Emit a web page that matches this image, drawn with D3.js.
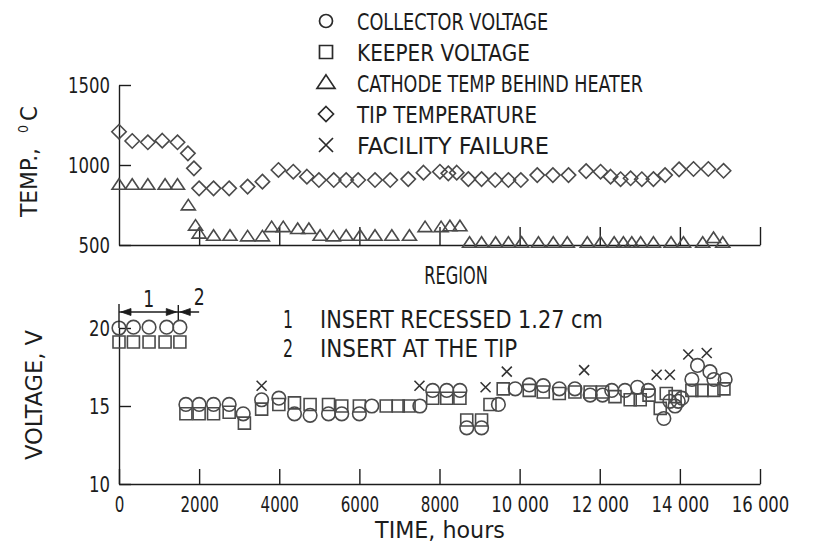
<!DOCTYPE html>
<html>
<head>
<meta charset="utf-8">
<script src="https://cdn.jsdelivr.net/npm/d3@7"></script>
<style>
  html, body { margin: 0; padding: 0; background: #fff; }
  svg { display: block; }
  text { font-family: "DejaVu Sans Condensed", "Liberation Sans Narrow", "DejaVu Sans", sans-serif; fill: #1c1c1c; }
</style>
</head>
<body>
<svg id="chart" width="814" height="551"></svg>
<script>
// ---- Data: endurance test, temperatures and voltages vs. time (hours) ----
const tipTime  = [0, 330, 720, 1080, 1460, 1720, 1870, 2000, 2360, 2750, 3210, 3580, 3980, 4350, 4690, 4990, 5360, 5670, 5970, 6390, 6770, 7220, 7600, 8010, 8220, 8430, 8720, 9050, 9390, 9720, 10030, 10440, 10830, 11220, 11660, 12020, 12270, 12520, 12770, 13050, 13340, 13630, 13980, 14340, 14710, 15090];
const tipTemp  = [1208, 1150, 1142, 1152, 1142, 1073, 979, 854, 854, 854, 865, 896, 969, 958, 927, 906, 906, 906, 906, 906, 906, 912, 952, 958, 948, 952, 912, 912, 906, 906, 906, 937, 937, 937, 962, 958, 927, 911, 917, 911, 912, 937, 973, 975, 975, 964];

const cathodeTime = [0, 330, 720, 1150, 1460, 1730, 1910, 2000, 2360, 2770, 3210, 3580, 3810, 4100, 4460, 4740, 5020, 5350, 5670, 6020, 6390, 6810, 7250, 7640, 8040, 8260, 8510, 8750, 9050, 9400, 9720, 10050, 10470, 10840, 11190, 11690, 12020, 12360, 12590, 12800, 13020, 13340, 13780, 14090, 14570, 14840, 15070];
const cathodeTemp = [875, 875, 875, 875, 875, 746, 619, 569, 556, 556, 552, 552, 610, 610, 598, 598, 556, 552, 556, 556, 556, 556, 556, 610, 610, 615, 615, 512, 512, 512, 512, 512, 512, 512, 512, 512, 512, 512, 512, 512, 512, 512, 512, 512, 512, 542, 512];

const collectorTime = [0, 360, 750, 1190, 1520, 1670, 2000, 2360, 2750, 3100, 3560, 3990, 4380, 4770, 5230, 5560, 6000, 6310, 7510, 7830, 8180, 8510, 8680, 9050, 9470, 9890, 10240, 10590, 10990, 11380, 11760, 12070, 12300, 12630, 12940, 13210, 13600, 13750, 13880, 13960, 14050, 14300, 14440, 14750, 14850, 15130];
const collectorVolt = [20.0, 20.05, 20.05, 20.05, 20.05, 15.1, 15.1, 15.1, 15.1, 14.5, 15.4, 15.5, 14.5, 14.4, 14.5, 14.5, 14.5, 15.0, 15.0, 16.0, 16.0, 16.0, 13.6, 13.6, 15.1, 16.1, 16.35, 16.3, 16.1, 16.1, 15.7, 15.7, 16.0, 16.0, 16.2, 16.0, 14.2, 15.3, 15.0, 15.3, 15.5, 16.7, 17.6, 17.2, 16.7, 16.7];

const keeperTime = [0, 360, 750, 1150, 1520, 1670, 2000, 2360, 2750, 3130, 3560, 3990, 4380, 4770, 5230, 5560, 6000, 6670, 6970, 7240, 7830, 8180, 8510, 8680, 9050, 9260, 9590, 10240, 10590, 10990, 11380, 11760, 12070, 12380, 12760, 13010, 13230, 13510, 13660, 13880, 14300, 14550, 14850, 15100];
const keeperVolt = [19.1, 19.1, 19.1, 19.1, 19.1, 14.5, 14.5, 14.5, 14.6, 13.9, 14.8, 15.1, 15.2, 15.1, 15.1, 15.0, 15.0, 15.0, 15.0, 15.0, 15.5, 15.5, 15.5, 14.1, 14.1, 15.1, 16.1, 16.0, 15.9, 15.8, 15.9, 15.9, 15.9, 15.6, 15.4, 15.4, 15.7, 14.85, 15.8, 15.6, 16.0, 16.0, 16.0, 16.1];

const failureTime = [3560, 7500, 9150, 9680, 11610, 13420, 13750, 14210, 14670];
const failureVolt = [16.3, 16.3, 16.2, 17.2, 17.3, 17.0, 17.0, 18.3, 18.4];

const regionBoundary = 1480;          // hours: insert moved from recessed to tip
const regionEnd = 2000;

const timeTicks = [0, 2000, 4000, 6000, 8000, 10000, 12000, 14000, 16000];
const tempTicks = [500, 1000, 1500];
const voltTicks = [10, 15, 20];

const legendLabels = ["COLLECTOR VOLTAGE", "KEEPER VOLTAGE", "CATHODE TEMP BEHIND HEATER", "TIP TEMPERATURE", "FACILITY FAILURE"];
const regionLabels = ["INSERT RECESSED 1.27 cm", "INSERT AT THE TIP"];

// ---- Scales ----
const svg = d3.select("#chart");
const x  = d3.scaleLinear().domain([0, 16000]).range([119, 760]);
const yT = d3.scaleLinear().domain([500, 1500]).range([245, 85]);
const yV = d3.scaleLinear().domain([10, 20]).range([484, 328]);

const ink = "#1c1c1c";
const markInk = "#4a4a4a";

// ---- Marker shapes ----
const shapes = {
  circle:   r => `M${-r},0A${r},${r} 0 1,0 ${r},0A${r},${r} 0 1,0 ${-r},0Z`,
  square:   r => `M${-r},${-r}H${r}V${r}H${-r}Z`,
  diamond:  r => `M0,${-r}L${r},0L0,${r}L${-r},0Z`,
  triangle: r => `M0,${-r * 0.9}L${r},${r * 0.6}L${-r},${r * 0.6}Z`,
  cross:    r => `M${-r},${-r}L${r},${r}M${-r},${r}L${r},${-r}`
};

function plot(xs, ys, yScale, shape, size, cls) {
  svg.append("g").attr("class", cls)
    .selectAll("path").data(xs.map((t, i) => [t, ys[i]])).join("path")
    .attr("transform", d => `translate(${x(d[0])},${yScale(d[1])})`)
    .attr("d", shapes[shape](size))
    .attr("fill", "none")
    .attr("stroke", shape === "cross" ? "#333" : markInk)
    .attr("stroke-width", 1.6);
}

// Text set with an even letter pitch, like stencil lettering
function letter(parent, str, px, py, pitch, size, anchor) {
  return parent.append("text")
    .attr("x", px).attr("y", py)
    .attr("font-size", size)
    .attr("text-anchor", anchor || "start")
    .attr("textLength", pitch * str.length)
    .attr("lengthAdjust", "spacingAndGlyphs")
    .text(str);
}

function styleAxis(g, pitch) {
  g.selectAll("path.domain, line").attr("stroke", ink).attr("stroke-width", 1.4);
  const t = g.selectAll("text").attr("font-size", 22).attr("fill", ink)
    .attr("font-family", "'DejaVu Sans Condensed', 'DejaVu Sans', sans-serif");
  if (pitch) {
    t.attr("textLength", function () { return this.textContent.length * pitch; })
     .attr("lengthAdjust", "spacingAndGlyphs");
  }
}

// ---- Upper panel: temperatures ----
svg.append("g").attr("transform", "translate(0,245)")
  .call(d3.axisBottom(x).tickValues(timeTicks.slice(1)).tickSize(-18).tickSizeOuter(0).tickFormat(""))
  .call(styleAxis);
svg.append("g").attr("transform", "translate(119,0)")
  .call(d3.axisLeft(yT).tickValues(tempTicks).tickSize(-12).tickSizeOuter(0).tickPadding(9).tickFormat(d3.format("d")))
  .call(styleAxis, 10.5);

plot(tipTime, tipTemp, yT, "diamond", 7.2, "tip");
plot(cathodeTime, cathodeTemp, yT, "triangle", 7, "cathode");

// ---- Lower panel: voltages ----
const fmtTime = d => d >= 10000 ? `${Math.floor(d / 1000)} 000` : `${d}`;
svg.append("g").attr("transform", "translate(0,484)")
  .call(d3.axisBottom(x).tickValues(timeTicks).tickSize(-15).tickSizeOuter(0).tickPadding(12).tickFormat(fmtTime))
  .call(styleAxis, 9.6);
svg.append("g").attr("transform", "translate(119,0)")
  .call(d3.axisLeft(yV).tickValues(voltTicks).tickSize(-12).tickSizeOuter(0).tickPadding(9))
  .call(styleAxis, 10.5);

plot(keeperTime, keeperVolt, yV, "square", 6, "keeper");
plot(collectorTime, collectorVolt, yV, "circle", 6.8, "collector");
plot(failureTime, failureVolt, yV, "cross", 5, "failure");

// ---- Region bracket ----
const brY = 312;
const bracket = svg.append("g").attr("stroke", ink).attr("stroke-width", 1.4).attr("fill", ink);
bracket.append("line").attr("x1", x(0)).attr("x2", x(0)).attr("y1", 304).attr("y2", yV(20));
bracket.append("line").attr("x1", x(0)).attr("x2", x(regionEnd)).attr("y1", brY).attr("y2", brY);
bracket.append("line").attr("x1", x(regionBoundary)).attr("x2", x(regionBoundary)).attr("y1", 305).attr("y2", 320);
const head = (tipX, dir) => `M${tipX},${brY}L${tipX - dir * 10},${brY - 3.5}L${tipX - dir * 10},${brY + 3.5}Z`;
bracket.append("path").attr("d", head(x(0) + 2, -1)).attr("stroke-width", 0.8);
bracket.append("path").attr("d", head(x(regionBoundary) - 2, 1)).attr("stroke-width", 0.8);
bracket.append("path").attr("d", head(x(regionBoundary) + 2, -1)).attr("stroke-width", 0.8);
letter(svg, "1", (x(0) + x(regionBoundary)) / 2, 307, 11, 23, "middle");
letter(svg, "2", x(regionEnd), 305, 11, 23, "middle");

// ---- Region key ----
letter(svg, "REGION", 456, 284, 10.6, 24, "middle");
letter(svg, "1", 288, 328, 10, 24, "middle");
letter(svg, regionLabels[0], 320, 328, 12.3, 24);
letter(svg, "2", 288, 357, 10, 24, "middle");
letter(svg, regionLabels[1], 320, 357, 11.6, 24);

// ---- Legend ----
const legendShapes = ["circle", "square", "triangle", "diamond", "cross"];
const legendSizes = [6.5, 6.5, 9, 7.5, 7];
legendLabels.forEach((lab, i) => {
  const ly = 21 + i * 31;
  svg.append("path")
    .attr("transform", `translate(326,${ly})`)
    .attr("d", shapes[legendShapes[i]](legendSizes[i]))
    .attr("fill", "none").attr("stroke", "#2a2a2a").attr("stroke-width", 1.7);
  const pitch = [11.25, 12.35, 11.0, 12.0, 12.0][i];
  letter(svg, lab, 357, ly + 8.5, pitch, 23);
});

// ---- Axis titles ----
const tTitle = svg.append("g").attr("transform", "translate(37,217) rotate(-90)");
letter(tTitle, "TEMP.,", 0, 0, 11.5, 23);
tTitle.append("text").attr("x", 84).attr("y", -9).attr("font-size", 14).text("0");
letter(tTitle, "C", 96, 0, 15, 23);

const vTitle = svg.append("g").attr("transform", "translate(42,460) rotate(-90)");
letter(vTitle, "VOLTAGE, V", 0, 0, 13, 23);

letter(svg, "TIME, hours", 440, 538, 11.8, 23, "middle");
</script>
</body>
</html>
